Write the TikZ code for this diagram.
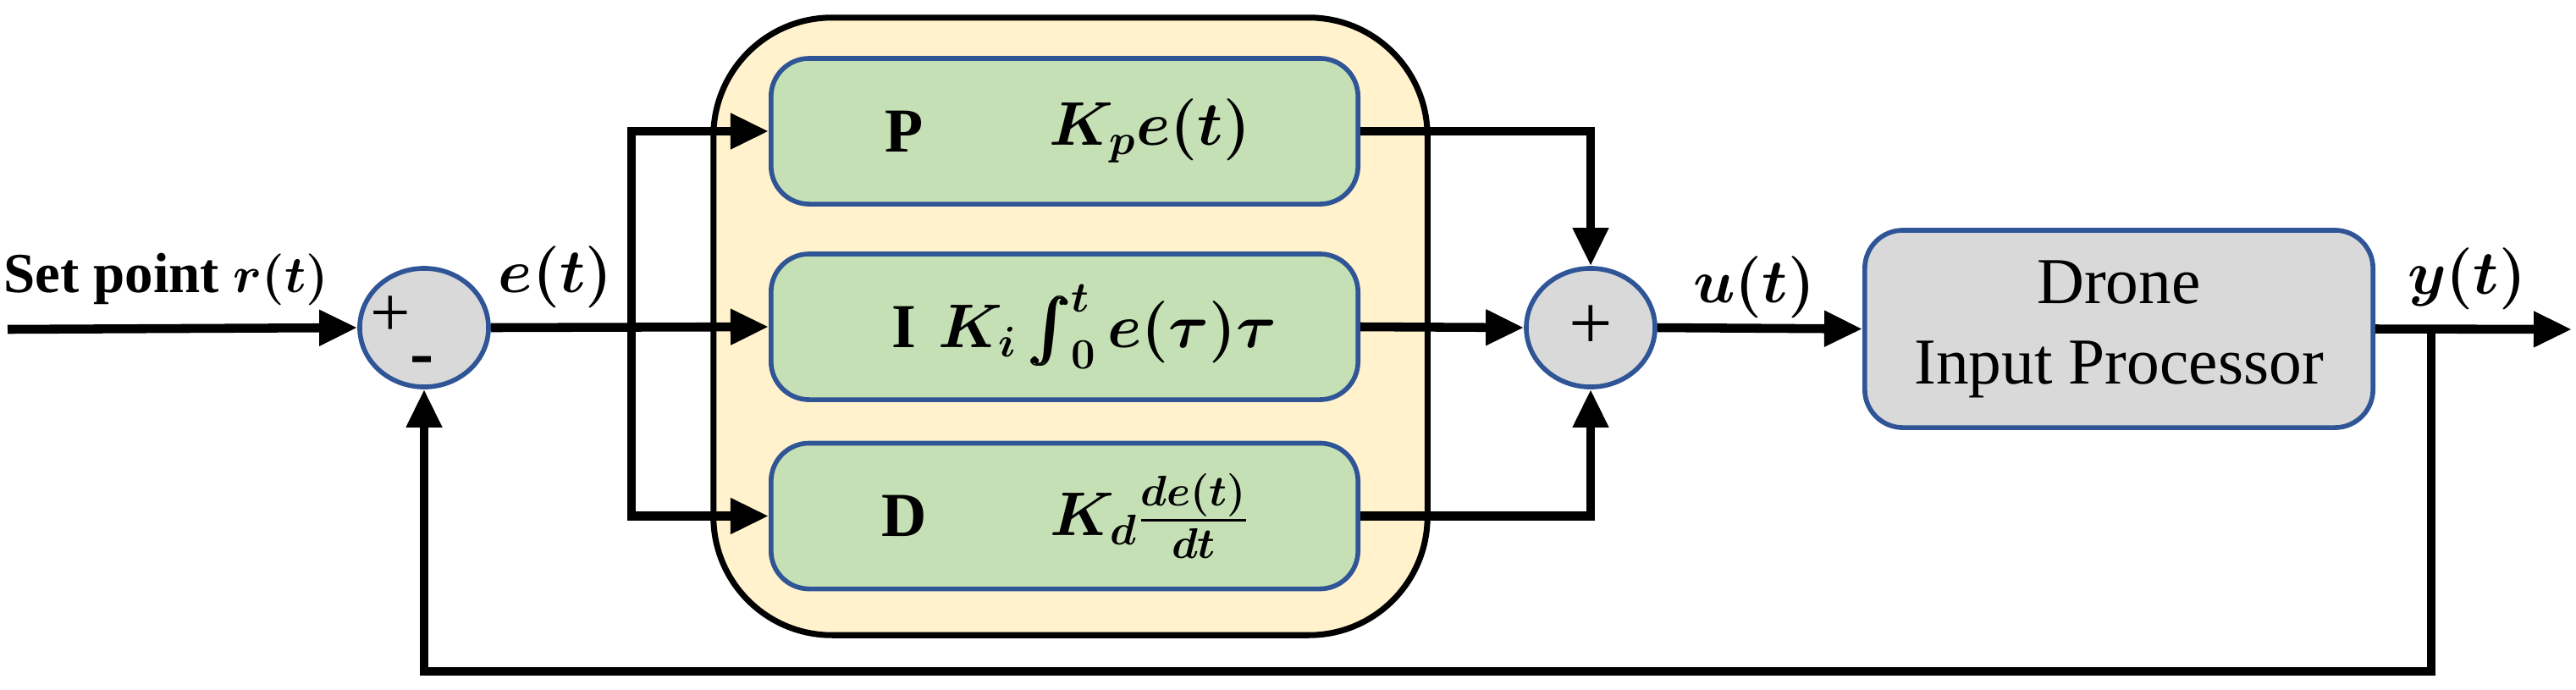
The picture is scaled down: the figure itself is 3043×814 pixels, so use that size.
\documentclass[tikz,border=0pt]{standalone}
\usepackage{amsmath}
\usepackage{bm}
\usepackage{fontspec}
\setmainfont{Liberation Serif}
\usetikzlibrary{shapes.geometric,positioning,arrows.meta}
\definecolor{pidfill}{HTML}{FFF2CC}
\definecolor{termfill}{HTML}{C5E0B4}
\definecolor{greyfill}{HTML}{D9D9D9}
\definecolor{boxline}{HTML}{2F5597}
\tikzset{
  sig/.style={line width=3pt,-{Triangle[length=4.5mm,width=4mm]}},
  term/.style={draw=boxline,line width=1.6pt,fill=termfill,rounded corners=0.45cm,minimum width=6.93cm,minimum height=1.72cm},
  summer/.style={ellipse,draw=boxline,line width=1.6pt,fill=greyfill,minimum width=1.52cm,minimum height=1.4cm,inner sep=0pt},
  lbl/.style={font=\fontsize{21}{25}\selectfont\bfseries}
}
\begin{document}
\begin{tikzpicture}[x=0.01cm,y=-0.01cm]
\useasboundingbox (0,0) rectangle (3043,814);
% controller block
\node [draw,line width=2pt,fill=pidfill,rounded corners=1.4cm,minimum width=8.43cm,minimum height=7.29cm] (pid) at (1264.5,385.5) {};
\node [term] (kp) at (1257.5,155) {};
\node [term] (ki) at (1257.5,386) {};
\node [term] (kd) at (1257.5,609.5) {};
\node [lbl] at ([xshift=1.6cm]kp.west) {P};
\node [lbl] at ([xshift=1.6cm]ki.west) {I};
\node [lbl] at ([xshift=1.6cm]kd.west) {D};
\node [lbl] at ([xshift=4.5cm]kp.west) {$\bm{K_p e(t)}$};
\node [lbl] at ([xshift=4.0cm]ki.west) {$\bm{K_i \int_0^t e(\tau)\tau}$};
\node [lbl] at ([xshift=4.5cm]kd.west) {$\bm{K_d \frac{de(t)}{dt}}$};
% summing points and plant
\node [summer] (errsum) at (501,387) {};
\node [font=\fontsize{24}{26}\selectfont] at (461,374) {+};
\node [font=\fontsize{24}{26}\selectfont\bfseries] at (499,433) {-};
\node [summer] (outsum) at (1879,387) {\fontsize{26}{28}\selectfont +};
\node [draw=boxline,line width=1.6pt,fill=greyfill,rounded corners=0.45cm,minimum width=6cm,minimum height=2.33cm,align=center,font=\fontsize{22}{27}\selectfont] (plant) at (2503,388.5) {Drone\\Input Processor};
% signals
\coordinate (in) at (9,389);
\coordinate (split) at (746,387);
\coordinate (out) at (3038,389);
\coordinate (tap) at (2872,389);
\node [font=\fontsize{19}{23}\selectfont\bfseries,anchor=west,inner sep=0pt] at (4,330) {Set point $\bm{r(t)}$};
\node [lbl] at (656,327) {$\bm{e(t)}$};
\node [lbl] at (2072,339) {$\bm{u(t)}$};
\node [lbl] at (2914,329) {$\bm{y(t)}$};
\draw [sig] (in) -- (errsum.west);
\draw [sig] (errsum.east) -- (ki.west);
\draw [sig] (split) |- (kp.west);
\draw [sig] (split) |- (kd.west);
\draw [sig] (kp.east) -| (outsum.north);
\draw [sig] (ki.east) -- (outsum.west);
\draw [sig] (kd.east) -| (outsum.south);
\draw [sig] (outsum.east) -- (plant.west);
\draw [sig] (plant.east) -- (out);
\draw [sig] (tap) -- (tap |- 0,793) -| (errsum.south);
\end{tikzpicture}
\end{document}
